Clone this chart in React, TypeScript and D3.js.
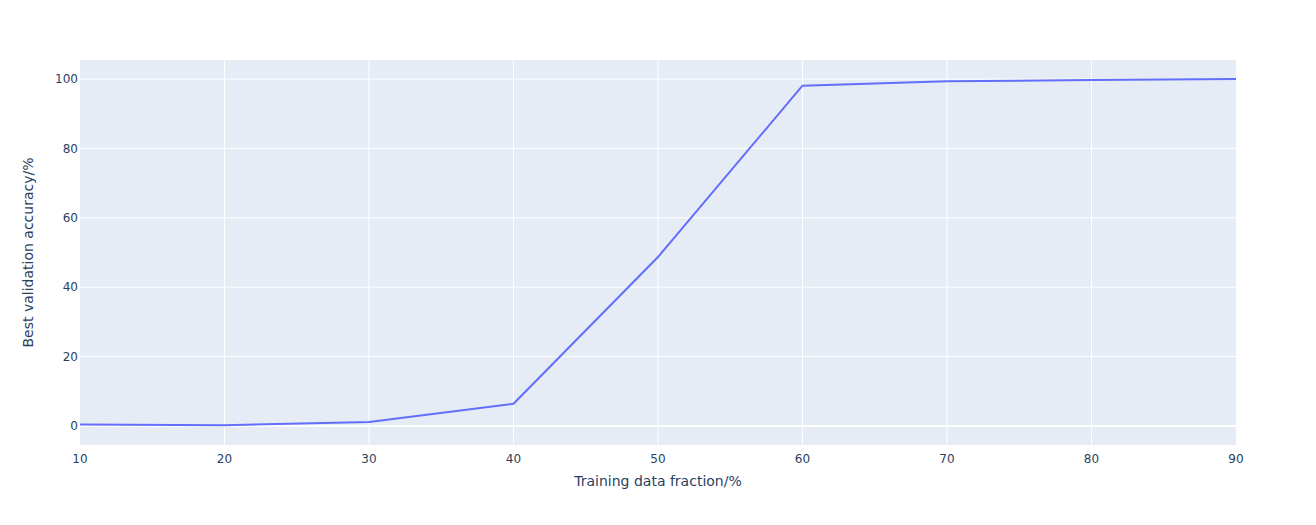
import React, {useEffect, useRef} from 'react'
import * as d3 from 'd3'

const width = 1316
const height = 525
const margin = {top: 60, right: 80, bottom: 80, left: 80}
const innerWidth = width - margin.left - margin.right
const innerHeight = height - margin.top - margin.bottom

const fractions = [10, 20, 30, 40, 50, 60, 70, 80, 90]
const accuracy = [0.4, 0.2, 1.1, 6.4, 48.7, 98.1, 99.4, 99.7, 100]
const yTicks = [0, 20, 40, 60, 80, 100]
const xTicks = [10, 20, 30, 40, 50, 60, 70, 80, 90]

const font = '"DejaVu Sans", verdana, arial, sans-serif'
const textColor = '#2a3f5f'

const App = () => {
  const chartRef = useRef<SVGSVGElement>(null)

  useEffect(() => {
    const svg = d3.select(chartRef.current)
    svg.selectAll('*').remove()

    const x = d3.scaleLinear().domain([10, 90]).range([0, innerWidth])
    const y = d3.scaleLinear().domain([-5.5, 105.5]).range([innerHeight, 0])

    const g = svg
      .append('g')
      .attr('transform', `translate(${margin.left},${margin.top})`)

    g.append('rect')
      .attr('width', innerWidth)
      .attr('height', innerHeight)
      .attr('fill', '#e5ecf6')

    // grid
    g.selectAll('.xgrid')
      .data(xTicks.slice(1, -1))
      .enter()
      .append('line')
      .attr('x1', d => x(d))
      .attr('x2', d => x(d))
      .attr('y1', 0)
      .attr('y2', innerHeight)
      .attr('stroke', '#fff')
      .attr('stroke-width', 1)

    g.selectAll('.ygrid')
      .data(yTicks)
      .enter()
      .append('line')
      .attr('x1', 0)
      .attr('x2', innerWidth)
      .attr('y1', d => y(d))
      .attr('y2', d => y(d))
      .attr('stroke', '#fff')
      .attr('stroke-width', d => (d === 0 ? 2 : 1))

    // tick labels
    g.selectAll('.xlabel')
      .data(xTicks)
      .enter()
      .append('text')
      .attr('x', d => x(d))
      .attr('y', innerHeight + 18)
      .attr('text-anchor', 'middle')
      .style('font-family', font)
      .style('font-size', '12px')
      .attr('fill', textColor)
      .text(d => d)

    g.selectAll('.ylabel')
      .data(yTicks)
      .enter()
      .append('text')
      .attr('x', -2)
      .attr('y', d => y(d))
      .attr('dy', '0.35em')
      .attr('text-anchor', 'end')
      .style('font-family', font)
      .style('font-size', '12px')
      .attr('fill', textColor)
      .text(d => d)

    // line
    const line = d3
      .line<number>()
      .x((d, i) => x(fractions[i]))
      .y(d => y(d))

    g.append('path')
      .datum(accuracy)
      .attr('d', line)
      .attr('fill', 'none')
      .attr('stroke', '#636efa')
      .attr('stroke-width', 2)
      .attr('stroke-linejoin', 'round')

    // axis titles
    svg
      .append('text')
      .attr('x', margin.left + innerWidth / 2)
      .attr('y', 486)
      .attr('text-anchor', 'middle')
      .style('font-family', font)
      .style('font-size', '14px')
      .attr('fill', textColor)
      .text('Training data fraction/%')

    svg
      .append('text')
      .attr('transform', `translate(33, ${margin.top + innerHeight / 2}) rotate(-90)`)
      .attr('text-anchor', 'middle')
      .style('font-family', font)
      .style('font-size', '14px')
      .attr('fill', textColor)
      .text('Best validation accuracy/%')
  }, [])

  return (
    <svg
      ref={chartRef}
      width={width}
      height={height}
      style={{position: 'absolute', left: 0, top: 0, background: '#fff'}}
    ></svg>
  )
}

export default App
